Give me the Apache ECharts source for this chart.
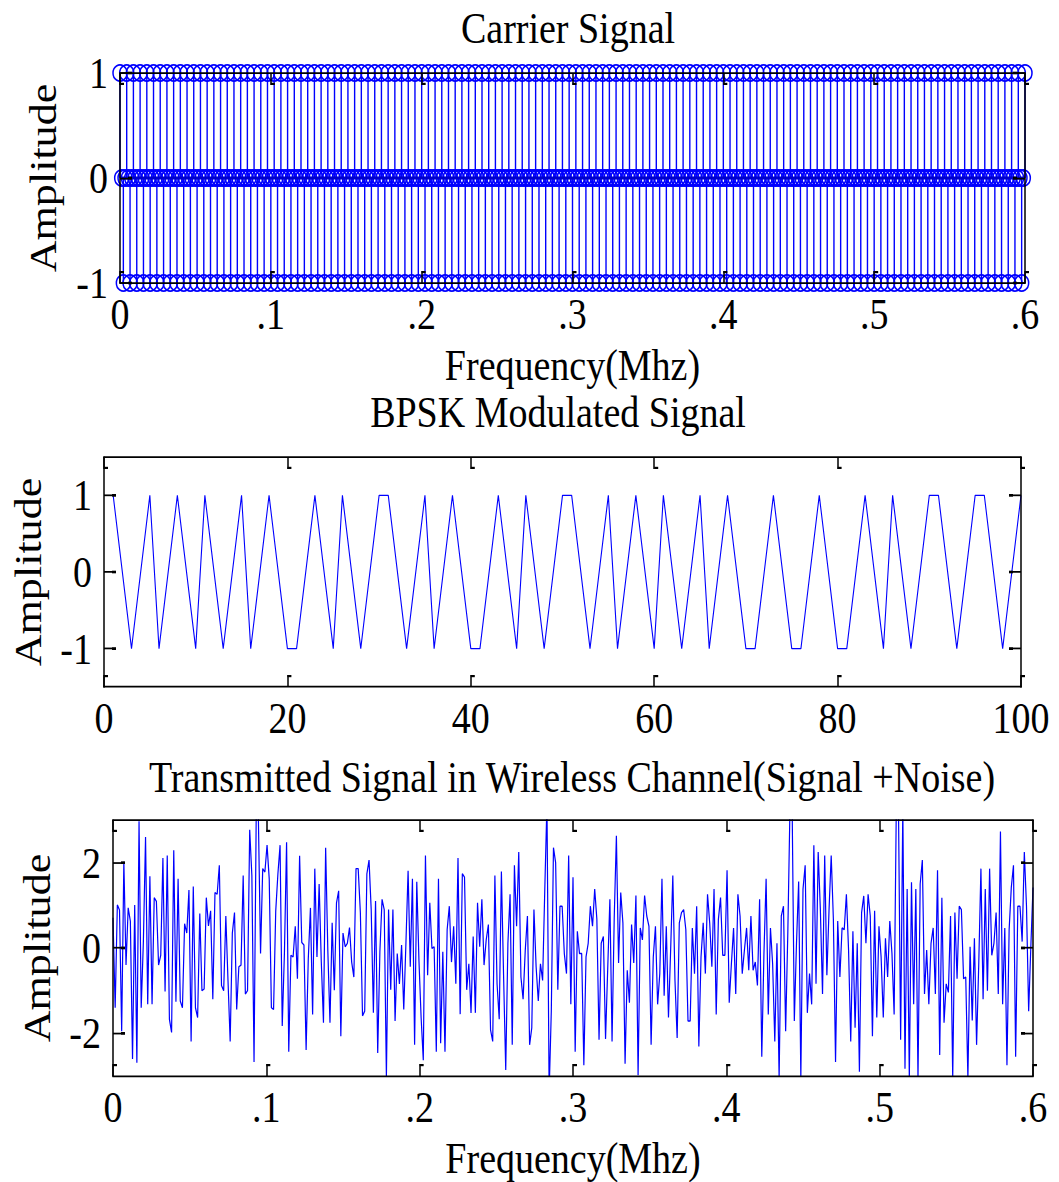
<!DOCTYPE html>
<html><head><meta charset="utf-8">
<script src="https://cdn.jsdelivr.net/npm/echarts@6/dist/echarts.min.js"></script>
<style>
html,body{margin:0;padding:0;background:#fff;overflow:hidden}
#wrap{width:1059px;height:1182px;overflow:hidden;position:relative;background:#fff}
#c{width:1059px;height:1019px;transform:scale(1,1.16);transform-origin:0 0}
</style></head>
<body><div id="wrap"><div id="c"></div></div>
<script>
// ---------------- data ----------------
const titles = ['Carrier Signal', 'BPSK Modulated Signal', 'Transmitted Signal in Wireless Channel(Signal +Noise)'];
const xName = 'Frequency(Mhz)';
const yName = 'Amplitude';

// carrier samples (0 .. 0.6)
const carrierValues = [
1,0,-1,0,1,0,-1,0,1,0,-1,0,1,0,-1,0,1,0,-1,0,
1,0,-1,0,1,0,-1,0,1,0,-1,0,1,0,-1,0,1,0,-1,0,
1,0,-1,0,1,0,-1,0,1,0,-1,0,1,0,-1,0,1,0,-1,0,
1,0,-1,0,1,0,-1,0,1,0,-1,0,1,0,-1,0,1,0,-1,0,
1,0,-1,0,1,0,-1,0,1,0,-1,0,1,0,-1,0,1,0,-1,0,
1,0,-1,0,1,0,-1,0,1,0,-1,0,1,0,-1,0,1,0,-1,0,
1,0,-1,0,1,0,-1,0,1,0,-1,0,1,0,-1,0,1,0,-1,0,
1,0,-1,0,1,0,-1,0,1,0,-1,0,1,0,-1,0,1,0,-1,0,
1,0,-1,0,1,0,-1,0,1,0,-1,0,1,0,-1,0,1,0,-1,0,
1,0,-1,0,1,0,-1,0,1,0,-1,0,1,0,-1,0,1,0,-1,0,
1,0,-1,0,1,0,-1,0,1,0,-1,0,1,0,-1,0,1,0,-1,0,
1,0,-1,0,1,0,-1,0,1,0,-1,0,1,0,-1,0,1,0,-1,0,
1,0,-1,0,1,0,-1,0,1,0,-1,0,1,0,-1,0,1,0,-1,0,
1,0,-1,0,1,0,-1,0,1,0,-1,0,1,0,-1,0,1,0,-1,0,
1,0,-1,0,1,0,-1,0,1,0,-1,0,1,0,-1,0,1,0,-1,0,
1,0,-1,0,1,0,-1,0,1,0,-1,0,1,0,-1,0,1,0,-1,0,
1,0,-1,0,1,0,-1,0,1,0,-1,0,1,0,-1,0,1,0,-1,0,
1,0,-1,0,1,0,-1,0,1,0,-1,0,1,0,-1,0,1,0,-1,0,
1,0,-1,0,1,0,-1,0,1,0,-1,0,1,0,-1,0,1,0,-1,0,
1,0,-1,0,1,0,-1,0,1,0,-1,0,1,0,-1,0,1,0,-1,0,
1,0,-1,0,1,0,-1,0,1,0,-1,0,1,0,-1,0,1,0,-1,0,
1,0,-1,0,1,0,-1,0,1,0,-1,0,1,0,-1,0,1,0,-1,0,
1,0,-1,0,1,0,-1,0,1,0,-1,0,1,0,-1,0,1,0,-1,0,
1,0,-1,0,1,0,-1,0,1,0,-1,0,1,0,-1,0,1,0,-1,0,
1,0,-1,0,1,0,-1,0,1,0,-1,0,1,0,-1,0,1,0,-1,0,
1,0,-1,0,1,0,-1,0,1,0,-1,0,1,0,-1,0,1,0,-1,0,
1,0,-1,0,1,0,-1,0,1,0,-1,0,1,0,-1,0,1,0,-1,0,
1];
const carrierSpan = 0.6;

// BPSK waveform vertices
const bpskX = [1,3,5,6,8,10,11,13,15,16,18,20,21,23,25,26,28,30,31,33,
35,36,38,40,41,43,45,46,48,50,51,53,55,56,58,60,61,63,65,66,
68,70,71,73,75,76,78,80,81,83,85,86,88,90,91,93,95,96,98,100];
const bpskY = [1,-1,1,-1,1,-1,1,-1,1,-1,1,-1,-1,1,-1,1,-1,1,1,-1,
1,-1,1,-1,-1,1,-1,1,-1,1,1,-1,1,-1,1,-1,1,-1,1,-1,
1,-1,-1,1,-1,-1,1,-1,-1,1,-1,1,-1,1,1,-1,1,1,-1,1];

// noisy received signal samples (0 .. 0.6)
const noiseValues = [
0.71,-1.40,1.01,0.89,-1.95,2.02,-0.40,0.94,0.63,-2.60,1.01,-2.69,2.97,-1.40,0.15,2.60,-1.32,1.68,-1.32,1.18,
1.09,-0.40,-0.17,2.11,-1.02,2.17,-1.67,-1.98,2.29,-1.26,1.62,-1.24,-1.40,0.57,0.35,1.36,-2.19,1.44,-1.40,-1.63,
0.81,-1.00,-0.96,1.18,0.52,0.87,-1.20,1.30,1.26,1.94,-0.88,
-1.00,0.75,-0.76,-2.19,0.35,0.83,-1.44,-0.44,-0.40,1.70,-1.08,-1.00,2.77,1.70,-2.67,3.1,3.05,-0.13,1.86,1.78,
2.41,1.62,-1.40,-1.44,0.87,1.74,2.41,-1.83,-0.13,2.48,-2.43,-0.17,-0.21,0.51,-0.72,2.16,0.13,0.07,-2.39,-0.25,
0.94,-1.56,1.86,-0.21,1.50,-0.33,-1.75,2.35,-0.05,-1.75,0.59,-0.99,1.06,1.34,-2.07,0.35,0.03,0.11,0.48,-0.33,
-0.68,1.86,1.86,0.83,-1.59,-1.48,1.74,2.06,0.90,-1.52,1.10,-2.46,-0.08,1.14,0.90,-3.02,0.90,-0.98,0.90,-1.71,
-0.13,-0.84,
0.07,-1.44,0.11,1.81,-0.44,1.62,-2.27,1.55,-0.29,-1.63,-2.63,2.17,-0.64,1.06,-0.01,0.03,-2.43,1.62,-2.23,-0.09,
-2.43,0.43,0.98,-0.33,0.51,-0.84,2.11,-1.55,1.74,1.66,-0.98,-0.37,-1.52,0.27,-1.52,1.06,0.03,1.14,-0.40,0.19,
0.55,-1.92,-2.19,1.70,-0.84,-1.67,1.79,-0.64,-2.86,0.11,1.26,-2.27,1.94,0.51,2.25,-0.68,-1.20,-0.05,0.75,-2.27,
-1.87,0.90,-0.44,-1.24,-0.37,-0.76,1.38,3.4,-3.4,-1.48,2.35,2.00,-0.98,0.98,0.98,-0.13,-0.60,2.17,-1.32,1.66,
-2.43,0.39,-0.13,-0.13,-2.75,-0.21,0.11,0.98,0.51,1.38,0.67,-2.15,0.11,0.27,-2.13,-0.48,1.14,-2.19,0.71,2.63,
-0.35,1.30,0.59,-2.71,-0.52,-1.28,0.55,-0.35,1.23,-2.98,0.47,0.19,1.23,0.75,0.51,-2.27,-0.21,0.51,-1.32,-0.60,
1.62,-1.12,0.51,-1.63,-0.05,1.70,-0.76,-2.11,0.59,0.83,0.90,0.43,-1.71,-1.71,0.47,-0.60,0.98,-2.31,-0.21,
0.59,-0.60,1.26,0.59,-0.44,1.38,-1.56,0.67,1.18,-0.17,-0.17,1.82,-1.28,-0.37,0.47,-1.08,1.26,0.75,-0.60,-0.05,
0.47,-0.52,0.75,-0.52,-0.33,-0.88,1.14,-2.55,-0.13,1.62,-1.56,0.47,-0.37,-2.19,0.11,-3.06,0.75,0.98,-1.95,0.35,
3.3,3.3,-1.71,0.11,1.56,-3.06,1.38,1.94,-1.52,-0.60,-1.32,2.41,-0.84,2.25,0.90,-1.08,2.17,-0.64,0.90,2.17,
0.67,-2.67,0.63,-0.68,0.47,0.43,1.26,-0.05,-2.19,0.39,-1.87,0.11,-2.90,0.83,1.22,0.11,1.26,0.75,-2.07,0.87,
-1.63,0.51,-0.21,-1.63,0.23,-0.68,0.63,-0.13,-1.56,3.3,3.3,-2.15,3.3,-2.83,1.38,-3.06,1.54,-1.32,1.38,-3.06,
1.50,2.06,-1.08,-0.05,-1.32,0.11,0.47,-1.08,1.82,-2.51,1.18,-1.75,-0.84,-1.04,0.75,-3.06,0.83,-0.72,0.98,0.90,
-0.72,-0.68,-3.06,0.03,-1.70,0.23,-2.27,-0.37,1.86,-1.20,1.38,-1.00,1.86,-0.17,0.11,0.83,-1.08,2.73,-1.32,0.47,
-2.75,0.43,1.42,1.94,-2.55,0.98,0.98,0.15,2.25,0.98,-1.48,0.03,1.42];
const noiseSpan = 0.6;

// ticks
const freqTicks = { min: 0, max: 0.6, interval: 0.1 };
const bpskTicks = { min: 0, max: 100, interval: 20 };
const yTicks1 = [-1, 0, 1];
const yTicks2 = [-1, 0, 1];
const yTicks3 = [-2, 0, 2];

// ---------------- layout ----------------
const SY = 1.16;               // vertical stretch of the original figure
const ry = v => v / SY;
const FONT = 'Liberation Serif';
const FS = 38;
const LH = 36;
const BLUE = '#0000FF';

const carrierData = carrierValues.map((v, i) => [i * carrierSpan / (carrierValues.length - 1), v]);
const bpskData = bpskX.map((x, i) => [x, bpskY[i]]);
const noiseData = noiseValues.map((v, i) => [i * noiseSpan / (noiseValues.length - 1), v]);

const fmtFreq = v => {
  if (Math.abs(v) < 1e-9) return '0';
  return (+v.toFixed(1)).toString().replace(/^0\./, '.');
};

const lineStyleAxis = { color: '#000', width: 1.5 };
function xAx(grid, rng, pos, opts) {
  const show = pos === 'bottom';
  return Object.assign({
    type: 'value', gridIndex: grid, position: pos, min: rng.min, max: rng.max, interval: rng.interval,
    z: 5,
    axisLine: { show: true, onZero: false, lineStyle: lineStyleAxis },
    axisTick: { show: true, inside: true, length: 12 / SY, lineStyle: lineStyleAxis },
    axisLabel: { show: show, margin: 9, color: '#000', fontFamily: FONT, fontSize: FS, lineHeight: LH },
    splitLine: { show: false }
  }, opts || {});
}
function yAx(grid, min, max, ticks, pos, opts) {
  const show = pos === 'left';
  return Object.assign({
    type: 'value', gridIndex: grid, position: pos, min: min, max: max,
    z: 5,
    axisLine: { show: true, onZero: false, lineStyle: lineStyleAxis },
    axisTick: { show: true, inside: true, length: 12, customValues: ticks, lineStyle: lineStyleAxis },
    axisLabel: { show: show, margin: 12, customValues: ticks, color: '#000', fontFamily: FONT, fontSize: FS,
                 lineHeight: LH, formatter: v => String(v) },
    splitLine: { show: false }
  }, opts || {});
}
const nameX = (gap) => ({ name: xName, nameLocation: 'middle', nameGap: gap,
  nameTextStyle: { fontFamily: FONT, fontSize: FS, color: '#000', lineHeight: LH } });
const nameY = (gap) => ({ name: yName, nameLocation: 'middle', nameGap: gap, nameRotate: 90,
  nameTextStyle: { fontFamily: FONT, fontSize: FS, color: '#000', lineHeight: LH } });
const freqLabel = { show: true, margin: 9, color: '#000', fontFamily: FONT, fontSize: FS, lineHeight: LH, formatter: fmtFreq };

const grids = [
  { left: 120, width: 905, top: ry(73), height: ry(283) - ry(73) },
  { left: 104, width: 917, top: ry(457), height: ry(687) - ry(457) },
  { left: 113, width: 920, top: ry(820), height: ry(1076) - ry(820) }
];
const titleGraphics = [
  { type: 'text', x: 568, y: ry(28), style: { text: titles[0], font: FS + 'px "' + FONT + '"', fill: '#000', align: 'center', verticalAlign: 'middle', lineHeight: LH } },
  { type: 'text', x: 558, y: ry(412), style: { text: titles[1], font: FS + 'px "' + FONT + '"', fill: '#000', align: 'center', verticalAlign: 'middle', lineHeight: LH } },
  { type: 'text', x: 572, y: ry(777), style: { text: titles[2], font: FS + 'px "' + FONT + '"', fill: '#000', align: 'center', verticalAlign: 'middle', lineHeight: LH } }
];

const chart = echarts.init(document.getElementById('c'), null, { renderer: 'svg' });
const option = {
  animation: false,
  backgroundColor: '#fff',
  grid: grids,
  xAxis: [
    xAx(0, freqTicks, 'bottom', Object.assign({ axisLabel: freqLabel }, nameX(52.5))),
    xAx(0, freqTicks, 'top'),
    xAx(1, bpskTicks, 'bottom'),
    xAx(1, bpskTicks, 'top'),
    xAx(2, freqTicks, 'bottom', Object.assign({ axisLabel: freqLabel }, nameX(53))),
    xAx(2, freqTicks, 'top')
  ],
  yAxis: [
    yAx(0, -1, 1, yTicks1, 'left', nameY(59)),
    yAx(0, -1, 1, yTicks1, 'right'),
    yAx(1, -1.5, 1.5, yTicks2, 'left', nameY(58)),
    yAx(1, -1.5, 1.5, yTicks2, 'right'),
    yAx(2, -3, 3, yTicks3, 'left', nameY(58)),
    yAx(2, -3, 3, yTicks3, 'right')
  ],
  graphic: titleGraphics,
  series: [
    {
      type: 'custom', xAxisIndex: 0, yAxisIndex: 0, silent: true, clip: false,
      data: carrierData,
      renderItem: function (params, api) {
        const x = api.value(0), v = api.value(1);
        const p0 = api.coord([x, 0]);
        const p1 = api.coord([x, v]);
        return {
          type: 'group',
          children: [
            { type: 'line', shape: { x1: p0[0], y1: p0[1], x2: p1[0], y2: p1[1] }, style: { stroke: BLUE, lineWidth: 1.4 } },
            { type: 'circle', shape: { cx: p1[0], cy: p1[1], r: 7 }, style: { fill: 'none', stroke: BLUE, lineWidth: 1.5 } }
          ]
        };
      },
      markLine: {
        silent: true, symbol: 'none', animation: false,
        label: { show: false },
        lineStyle: { color: '#0000CC', width: 2.5, type: 'solid' },
        data: [{ yAxis: 0 }]
      }
    },
    {
      type: 'line', xAxisIndex: 2, yAxisIndex: 2, silent: true,
      data: bpskData, showSymbol: false, symbol: 'none',
      lineStyle: { color: BLUE, width: 1.1 }
    },
    {
      type: 'line', xAxisIndex: 4, yAxisIndex: 4, silent: true, clip: true,
      data: noiseData, showSymbol: false, symbol: 'none',
      lineStyle: { color: BLUE, width: 1.2 }
    }
  ]
};
chart.setOption(option);

// small "feet" at the inner ends of the tick marks (as in the original figure)
const tickSets = [
  { g: 0, xi: 0, yi: 0, xr: freqTicks, yt: yTicks1 },
  { g: 1, xi: 2, yi: 2, xr: bpskTicks, yt: yTicks2 },
  { g: 2, xi: 4, yi: 4, xr: freqTicks, yt: yTicks3 }
];
const feet = [];
const FW = 4, FH = 2.2 / SY;
tickSets.forEach(s => {
  const gr = grids[s.g];
  const top = gr.top, bot = gr.top + gr.height, left = gr.left, right = gr.left + gr.width;
  const n = Math.round((s.xr.max - s.xr.min) / s.xr.interval);
  for (let k = 0; k <= n; k++) {
    const v = s.xr.min + k * s.xr.interval;
    const px = chart.convertToPixel({ xAxisIndex: s.xi }, v);
    feet.push({ type: 'rect', z: 20, silent: true, shape: { x: px, y: top + 12 / SY - FH, width: FW, height: FH }, style: { fill: '#000' } });
    feet.push({ type: 'rect', z: 20, silent: true, shape: { x: px, y: bot - 12 / SY, width: FW, height: FH }, style: { fill: '#000' } });
  }
  s.yt.forEach(v => {
    const py = chart.convertToPixel({ yAxisIndex: s.yi }, v);
    feet.push({ type: 'rect', z: 20, silent: true, shape: { x: left + 12 - FW, y: py - FH * 0.6, width: FW, height: FH * 1.2 }, style: { fill: '#000' } });
    feet.push({ type: 'rect', z: 20, silent: true, shape: { x: right - 12, y: py - FH * 0.6, width: FW, height: FH * 1.2 }, style: { fill: '#000' } });
  });
});
chart.setOption({ graphic: titleGraphics.concat(feet) });
</script>
</body></html>
